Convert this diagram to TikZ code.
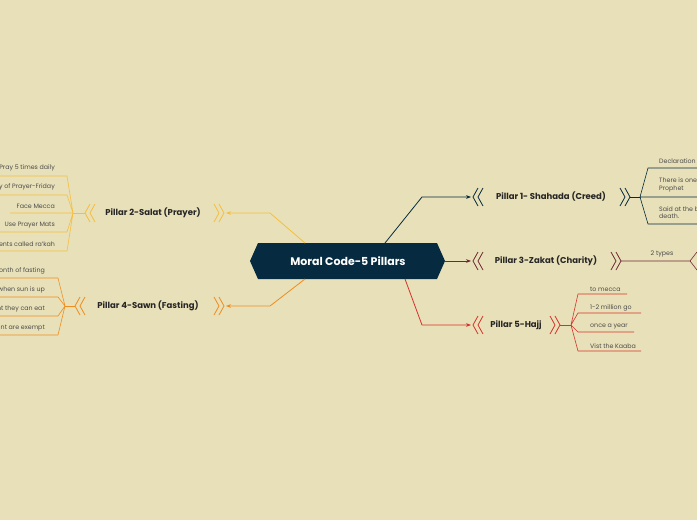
\documentclass[tikz,border=0pt]{standalone}
\usepackage{fontspec}
\setmainfont{Poppins}
\usetikzlibrary{arrows.meta}
\definecolor{bg}{RGB}{232,224,184}
\definecolor{navy}{RGB}{6,43,64}
\definecolor{cyel}{RGB}{246,190,60}
\definecolor{corg}{RGB}{240,140,30}
\definecolor{cmar}{RGB}{112,40,52}
\definecolor{cred}{RGB}{214,50,45}
\tikzset{
  pillar/.style={font=\fontsize{8.5}{10}\selectfont\bfseries,text=black!85},
  leaf/.style={font=\fontsize{6.3}{7.5}\selectfont,text=black!70,inner sep=0pt},
  conn/.style={line width=0.8pt},
}
% two chevrons, #3=+1 points right, -1 points left
\newcommand{\chevs}[4]{%
  \draw[#4,line width=0.8pt] (#1,#2-9) -- ++(#3*5,9) -- ++(-#3*5,9);
  \draw[#4,line width=0.8pt] (#1+#3*5,#2-9) -- ++(#3*5,9) -- ++(-#3*5,9);}
\begin{document}
\begin{tikzpicture}[x=1pt,y=-1pt]
\fill[bg] (0,0) rectangle (697,520);
\useasboundingbox (0,0) rectangle (697,520);

% central
\fill[navy] (250,261) -- (258,243) -- (437,243) -- (445,261) -- (437,279) -- (258,279) -- cycle;
\node[font=\fontsize{11}{13}\selectfont\bfseries,text=white] (root) at (348,261) {Moral Code-5 Pillars};
\coordinate (rE) at (445,261);

% Pillar 1
\coordinate (p1a) at (385,243);
\draw[navy,conn,-{Stealth[length=5pt]}] (p1a) -- (422,197) -- (471,197);
\chevs{483}{197}{-1}{navy}
\node[pillar] (p1) at (551,197) {Pillar 1- Shahada (Creed)};
\chevs{620}{197}{1}{navy}
\coordinate (f1) at (640,197);
\draw[navy,conn] (630,197) -- (f1);
\draw[navy,line width=0.6pt] (f1) -- (648,168) -- (697,168) (f1) -- (697,197) (f1) -- (648,224) -- (697,224);
\node[leaf,anchor=west] (l11) at (659,161) {Declaration of faith};
\node[leaf,anchor=west,align=left] (l12) at (659,185) {There is one God and\\Prophet};
\node[leaf,anchor=west,align=left] (l13) at (659,212.5) {Said at the birth and\\death.};

% Pillar 3
\draw[cmar,conn,-{Stealth[length=5pt]}] (rE) -- (471,261);
\chevs{483}{261}{-1}{cmar}
\node[pillar] (p3) at (546,261) {Pillar 3-Zakat (Charity)};
\chevs{611}{261}{1}{cmar}
\coordinate (f3) at (690,261);
\draw[cmar,line width=0.6pt] (621,261) -- (f3) -- (697,252) (f3) -- (697,270);
\node[leaf] (l31) at (662,254) {2 types};

% Pillar 5
\draw[cred,conn,-{Stealth[length=5pt]}] (405,279) -- (422,325) -- (471,325);
\chevs{483}{325}{-1}{cred}
\node[pillar] (p5) at (516,325) {Pillar 5-Hajj};
\chevs{550}{325}{1}{cred}
\coordinate (f5) at (571,325);
\draw[cred,conn] (560,325) -- (f5);
\draw[cred,line width=0.6pt] (f5) -- (578,294) -- (627,294) (f5) -- (578,313) -- (641,313)
  (f5) -- (578,332) -- (634,332) (f5) -- (578,351) -- (641,351);
\node[leaf,anchor=west] (l51) at (590,289) {to mecca};
\node[leaf,anchor=west] (l52) at (590,308) {1-2 million go};
\node[leaf,anchor=west] (l53) at (590,327) {once a year};
\node[leaf,anchor=west] (l54) at (590,346) {Vist the Kaaba};

% Pillar 2
\draw[cyel,conn,-{Stealth[length=5pt]}] (305,243) -- (270,213) -- (226,213);
\chevs{214}{213}{1}{cyel}
\node[pillar] (p2) at (153,213) {Pillar 2-Salat (Prayer)};
\chevs{95}{213}{-1}{cyel}
\coordinate (f2) at (73,213);
\draw[cyel,conn] (85,213) -- (f2);
\draw[cyel,line width=0.6pt] (f2) -- (67,176) -- (0,176) (f2) -- (67,195) -- (0,195) (f2) -- (10,213)
  (f2) -- (67,232) -- (0,232) (f2) -- (67,251) -- (0,251);
\node[leaf,anchor=east] (l21) at (55,168) {Pray 5 times daily};
\node[leaf,anchor=east] (l22) at (55,187) {Day of Prayer-Friday};
\node[leaf,anchor=east] (l23) at (55,206) {Face Mecca};
\node[leaf,anchor=east] (l24) at (55,225) {Use Prayer Mats};
\node[leaf,anchor=east] (l25) at (55,244) {Movements called ra'kah};

% Pillar 4
\draw[corg,conn,-{Stealth[length=5pt]}] (305,279) -- (270,306) -- (226,306);
\chevs{214}{306}{1}{corg}
\node[pillar] (p4) at (148,306) {Pillar 4-Sawn (Fasting)};
\chevs{85}{306}{-1}{corg}
\coordinate (f4) at (65,306);
\draw[corg,conn] (75,306) -- (f4);
\draw[corg,line width=0.6pt] (f4) -- (58,278) -- (0,278) (f4) -- (58,297) -- (0,297)
  (f4) -- (58,316) -- (0,316) (f4) -- (58,335) -- (0,335);
\node[leaf,anchor=east] (l41) at (45,271) {Month of fasting};
\node[leaf,anchor=east] (l42) at (45,290) {Fast when sun is up};
\node[leaf,anchor=east] (l43) at (45,309) {At night they can eat};
\node[leaf,anchor=east] (l44) at (45,328) {Sick and pregnant are exempt};
\end{tikzpicture}
\end{document}
